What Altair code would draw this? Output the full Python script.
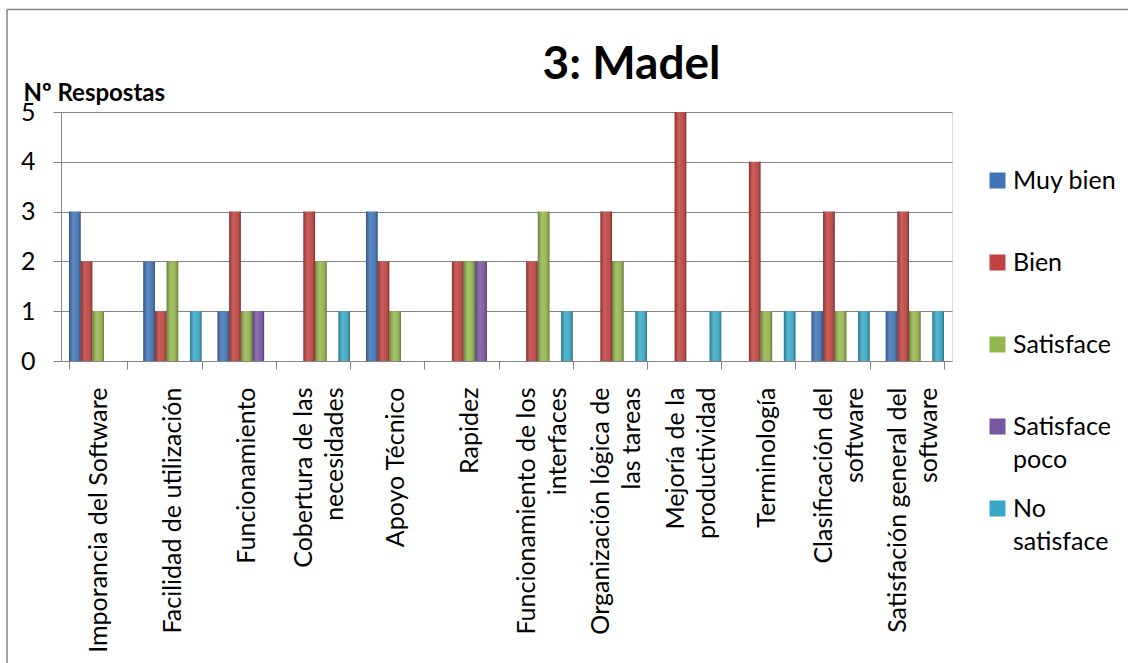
import altair as alt
import pandas as pd

# Survey categories (line breaks mark where the axis label wraps)
categories = [
    "Imporancia del Software",
    "Facilidad de utilización",
    "Funcionamiento",
    "Cobertura de las\nnecesidades",
    "Apoyo Técnico",
    "Rapidez",
    "Funcionamiento de los\ninterfaces",
    "Organización lógica de\nlas tareas",
    "Mejoría de la\nproductividad",
    "Terminología",
    "Clasificación del\nsoftware",
    "Satisfación general del\nsoftware",
]

series = ["Muy bien", "Bien", "Satisface", "Satisface poco", "No satisface"]

# Number of answers per category, one list per rating
muy_bien = [3, 2, 1, 0, 3, 0, 0, 0, 0, 0, 1, 1]
bien = [2, 1, 3, 3, 2, 2, 2, 3, 5, 4, 3, 3]
satisface = [1, 2, 1, 2, 1, 2, 3, 2, 0, 1, 1, 1]
satisface_poco = [0, 0, 1, 0, 0, 2, 0, 0, 0, 0, 0, 0]
no_satisface = [0, 1, 0, 1, 0, 0, 1, 1, 1, 1, 1, 1]

y_ticks = [0, 1, 2, 3, 4, 5]
colors = ["#3f74b8", "#c0413e", "#94b64c", "#7757a0", "#39a8c6"]

rows = []
for name, vals in zip(series, [muy_bien, bien, satisface, satisface_poco, no_satisface]):
    for cat, v in zip(categories, vals):
        if v > 0:
            rows.append({"categoria": cat, "serie": name, "respuestas": v})
df = pd.DataFrame(rows)

GRAY = "#858585"
FONT = "Lato"

x_enc = alt.X(
    "categoria:N",
    sort=categories,
    scale=alt.Scale(domain=categories, paddingInner=0.215, paddingOuter=0.108),
    axis=alt.Axis(
        title=None,
        labelAngle=270,
        labelAlign="right",
        labelBaseline="middle",
        labelExpr="split(datum.label, '\\n')",
        # two-line labels are centred on their band
        labelOffset={
            "condition": {"test": "indexof(datum.label, '\\n') >= 0", "value": -17},
            "value": 0,
        },
        labelFontSize=25,
        labelLineHeight=31,
        labelLimit=0,
        labelColor="#000000",
        labelPadding=18,
        tickSize=8,
        tickBand="extent",
        tickColor=GRAY,
        domainColor=GRAY,
        labelFont=FONT,
        grid=False,
    ),
)
xoff_enc = alt.XOffset(
    "serie:N", sort=series,
    scale=alt.Scale(domain=series, paddingInner=0, paddingOuter=0),
)
y_enc = alt.Y(
    "respuestas:Q",
    scale=alt.Scale(domain=[0, 5], nice=False),
    axis=alt.Axis(
        values=y_ticks,
        format="d",
        title="Nº Respostas",
        titleAngle=0,
        titleAlign="left",
        titleBaseline="alphabetic",
        titleX=-38,
        titleY=-12,
        titleFont=FONT,
        titleFontSize=24,
        titleFontWeight="bold",
        titleColor="#000000",
        labelFont=FONT,
        labelFontSize=25,
        labelColor="#000000",
        labelPadding=18,
        tickSize=8,
        tickColor=GRAY,
        domainColor=GRAY,
        grid=True,
        gridColor=GRAY,
        gridWidth=1.2,
    ),
)

bars = alt.Chart(df).mark_bar().encode(
    x=x_enc,
    xOffset=xoff_enc,
    y=y_enc,
    color=alt.Color(
        "serie:N",
        sort=series,
        scale=alt.Scale(domain=series, range=colors),
        legend=alt.Legend(
            title=None,
            orient="none",
            legendX=924,
            legendY=56,
            padding=0,
            symbolType="square",
            symbolSize=256,
            symbolStrokeWidth=0,
            labelFont=FONT,
            labelFontSize=25,
            labelColor="#000000",
            labelOffset=3,
            rowPadding=23,
            # every entry takes two lines so the rows are evenly spaced
            labelExpr="length(datum.label) > 10 ? split(datum.label, ' ') : [datum.label, '']",
        ),
    ),
)

# Cylindrical shading laid over every bar
shine = alt.Chart(df).mark_bar(
    fill={
        "gradient": "linear",
        "x1": 0, "x2": 1, "y1": 0, "y2": 0,
        "stops": [
            {"offset": 0, "color": "rgba(0,0,0,0.30)"},
            {"offset": 0.4, "color": "rgba(255,255,255,0.16)"},
            {"offset": 0.6, "color": "rgba(255,255,255,0.08)"},
            {"offset": 1, "color": "rgba(0,0,0,0.34)"},
        ],
    }
).encode(x=x_enc, xOffset=xoff_enc, y=y_enc)

# Outer chart frame (top and left edges)
frame_df = pd.DataFrame({"k": [0]})
frame_top = alt.Chart(frame_df).mark_rule(color=GRAY, strokeWidth=1.5).encode(
    x=alt.value(-54), x2=alt.value(1070), y=alt.value(-102.5)
)
frame_left = alt.Chart(frame_df).mark_rule(color=GRAY, strokeWidth=1.5).encode(
    x=alt.value(-54), y=alt.value(-102.5), y2=alt.value(560)
)

chart = alt.layer(bars, shine, frame_top, frame_left).properties(
    width=891,
    height=249,
    autosize=alt.AutoSizeParams(type="none"),
    padding={"left": 61, "top": 112, "right": 176, "bottom": 302},
    title=alt.TitleParams(
        "3: Madel",
        font=FONT,
        fontSize=46,
        fontWeight="bold",
        color="#000000",
        anchor="middle",
        dx=125,
        dy=120,
        offset=4,
        baseline="alphabetic",
    ),
).configure_view(stroke=None).configure(
    background="#ffffff",
    style={"guide-label": {"lineHeight": 33}},
)

chart.save("out.html", embed_options={"renderer": "svg", "actions": False})
